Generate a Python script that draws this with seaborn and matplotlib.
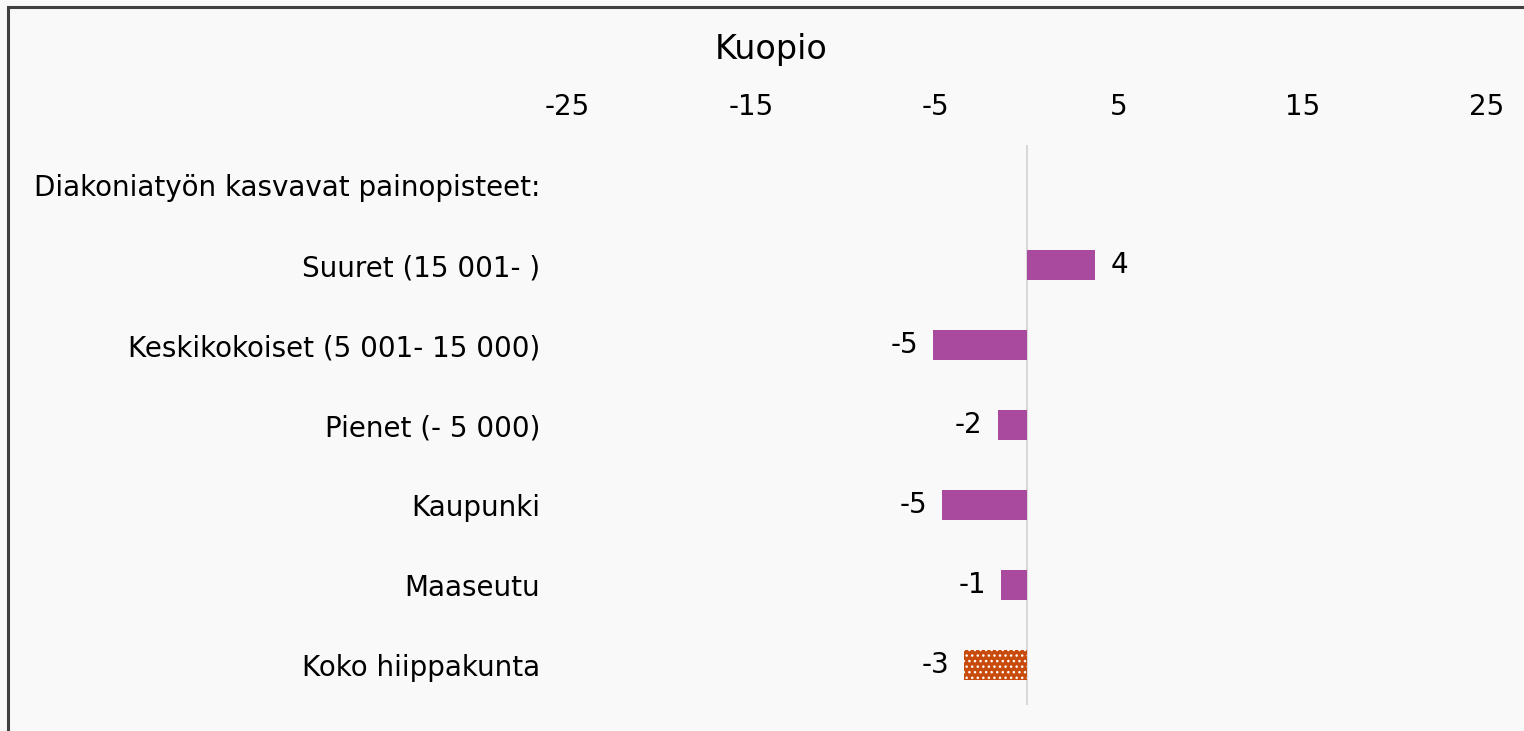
import seaborn as sns
import matplotlib.pyplot as plt
import matplotlib.patches as mpatches
import pandas as pd

# data
header = 'Diakoniatyön kasvavat painopisteet:'
categories = ['Suuret (15 001- )', 'Keskikokoiset (5 001- 15 000)', 'Pienet (- 5 000)',
              'Kaupunki', 'Maaseutu', 'Koko hiippakunta']
values = [3.7, -5.1, -1.6, -4.6, -1.4, -3.4]
value_labels = ['4', '-5', '-2', '-5', '-1', '-3']
x_ticks = [-25, -15, -5, 5, 15, 25]
title = 'Kuopio'

df = pd.DataFrame({'cat': categories, 'val': values})

bg = '#f9f9f9'
plt.rcParams['font.family'] = ['DejaVu Sans']
plt.rcParams['axes.unicode_minus'] = False
plt.rcParams['hatch.linewidth'] = 1.0
fig = plt.figure(figsize=(15.24, 7.31), dpi=100, facecolor=bg)
ax = fig.add_axes([567/1524, 1-705/731, 920/1524, 560/731])
ax.set_facecolor(bg)

sns.barplot(data=df, x='val', y='cat', order=[header] + categories, orient='h',
            color='#aa4a9f', saturation=1, width=0.37, ax=ax)

# koko hiippakunta -> orange with white dots
for p in ax.patches:
    if abs(p.get_y() + p.get_height()/2 - 6) < 0.1:
        p.set_facecolor('#c84b0c')
        p.set_edgecolor('white')
        p.set_linewidth(0)
        p.set_hatch('...')

ax.bar_label(ax.containers[0], labels=value_labels, padding=11, fontsize=20)

ax.axvline(0, color='#d9d9d9', lw=1.5, zorder=0)
ax.set_xlim(-25, 25)
ax.set_ylim(6.5, -0.5)
ax.xaxis.tick_top()
ax.set_xticks(x_ticks)
ax.tick_params(axis='x', length=0, pad=17, labelsize=20)
ax.tick_params(axis='y', length=0, pad=19.5, labelsize=20)
ax.set_xlabel('')
ax.set_ylabel('')
for s in ax.spines.values():
    s.set_visible(False)

fig.text(771/1524, 1-50/731, title, ha='center', va='center', fontsize=24)

# outer border
fig.patches.append(mpatches.Rectangle((8/1524, -0.05), 1.2, 1.05 - 7.5/731, transform=fig.transFigure,
                                      fill=False, edgecolor='#404040', lw=2.2))

fig.savefig('out.png', dpi=100, facecolor=bg)
